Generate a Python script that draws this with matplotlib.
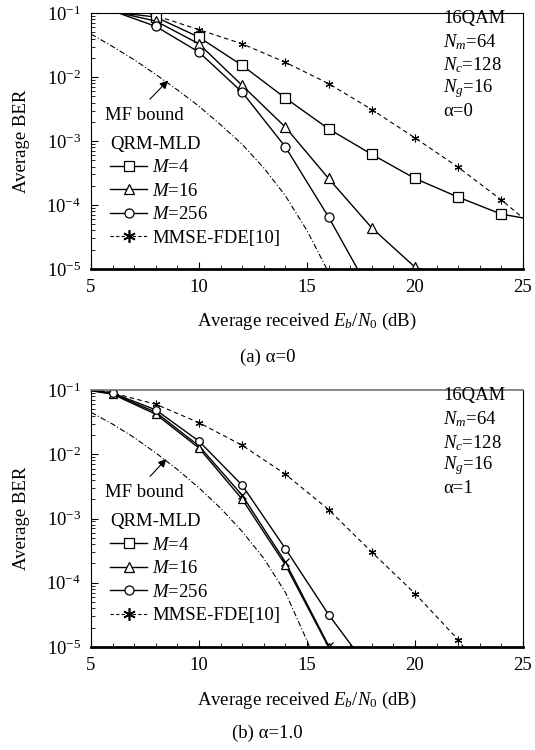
import numpy as np
import matplotlib
matplotlib.use("Agg")
import matplotlib.pyplot as plt
from matplotlib.lines import Line2D

plt.rcParams['font.family'] = ['Liberation Serif', 'DejaVu Serif']
plt.rcParams['mathtext.fontset'] = 'custom'
plt.rcParams['mathtext.rm'] = 'Liberation Serif'
plt.rcParams['mathtext.it'] = 'Liberation Serif:italic'
plt.rcParams['mathtext.bf'] = 'Liberation Serif:bold'

# ---------------- data, (a) alpha = 0 ----------------
snr_m4_a = [6, 8, 10, 12, 14, 16, 18, 20, 22, 24, 26]
ber_m4_a = [0.104, 0.0866, 0.042, 0.0152, 0.0047, 0.00155, 6.2e-4, 2.6e-4, 1.33e-4, 7.2e-5, 5.5e-5]
snr_m16_a = [6, 8, 10, 12, 14, 16, 18, 20, 22]
ber_m16_a = [0.106, 0.075, 0.033, 0.0074, 0.00165, 2.6e-4, 4.4e-5, 1.07e-5, 6e-6]
snr_m256_a = [6, 8, 10, 12, 14, 16, 18]
ber_m256_a = [0.108, 0.062, 0.0245, 0.0058, 8.1e-4, 6.5e-5, 4e-6]
snr_mmse_a = [6, 8, 10, 12, 14, 16, 18, 20, 22, 24, 26]
ber_mmse_a = [0.14, 0.091, 0.055, 0.033, 0.017, 0.0079, 0.0031, 0.00112, 3.9e-4, 1.2e-4, 3.3e-5]
snr_mf_a = [5, 6, 7, 8, 9, 10, 11, 12, 13, 14, 15, 16, 17]
ber_mf_a = [0.047, 0.030, 0.0186, 0.011, 0.0063, 0.0035, 0.0018, 8.9e-4, 3.8e-4, 1.4e-4, 4.0e-5, 8.9e-6, 2.0e-6]

# ---------------- data, (b) alpha = 1.0 ----------------
snr_m4_b = [4, 6, 8, 10, 12, 14, 16, 18]
ber_m4_b = [0.11, 0.088, 0.045, 0.0135, 0.0023, 2.1e-4, 1.05e-5, 2e-7]
snr_m16_b = [4, 6, 8, 10, 12, 14, 16, 18]
ber_m16_b = [0.11, 0.086, 0.042, 0.0125, 0.0020, 1.9e-4, 1.0e-5, 2e-7]
snr_m256_b = [4, 6, 8, 10, 12, 14, 16, 18]
ber_m256_b = [0.11, 0.09, 0.049, 0.016, 0.0033, 3.4e-4, 3.2e-5, 4e-6]
snr_mmse_b = [4, 6, 8, 10, 12, 14, 16, 18, 20, 22, 24]
ber_mmse_b = [0.13, 0.09, 0.06, 0.031, 0.0138, 0.0049, 0.00138, 3.0e-4, 6.8e-5, 1.3e-5, 1.5e-6]
snr_mf_b = [5, 6, 7, 8, 9, 10, 11, 12, 13, 14, 15, 16]
ber_mf_b = [0.045, 0.0295, 0.0182, 0.0105, 0.0058, 0.0030, 0.00145, 6.3e-4, 2.4e-4, 7.1e-5, 1.26e-5, 2.0e-6]

params_a = ['16QAM', r'$N_m$=64', r'$N_c$=128', r'$N_g$=16', 'α=0']
params_b = ['16QAM', r'$N_m$=64', r'$N_c$=128', r'$N_g$=16', 'α=1']

FS = 13.5
star = (6, 2, 0)

fig = plt.figure(figsize=(5.35, 7.5), dpi=100)
ax1 = fig.add_axes([0.170, 0.6413, 0.8075, 0.3413])
ax2 = fig.add_axes([0.170, 0.1373, 0.8075, 0.3427])


def panel(ax, d, params, mk4, mk16, mk256, ms, first):
    (s4, b4), (s16, b16), (s256, b256), (sm, bm), (sf, bf) = d
    me = slice(first, None)
    ax.plot(sf, bf, color='k', lw=0.8, ls=(0, (5, 2, 1, 2)))
    ax.plot(sm, bm, color='k', lw=0.8, ls=(0, (4, 3)), marker=star, ms=5.5, mew=0.8,
            markevery=me)
    ax.plot(s4, b4, color='k', lw=1.0, marker=mk4, ms=ms, mfc='white', mec='k', mew=0.9,
            markevery=me)
    ax.plot(s16, b16, color='k', lw=1.0, marker=mk16, ms=ms, mfc='white', mec='k', mew=0.9,
            markevery=me)
    ax.plot(s256, b256, color='k', lw=1.0, marker=mk256, ms=ms, mfc='white', mec='k', mew=0.9,
            markevery=me)

    ax.set_yscale('log')
    ax.set_xlim(5, 25)
    ax.set_ylim(1e-5, 1e-1)
    ax.set_xticks([5, 10, 15, 20, 25])
    ax.set_xticks(np.arange(5, 26, 1), minor=True)
    ax.tick_params(which='both', direction='in', top=False, right=False,
                   labelsize=FS, pad=7)
    ax.tick_params(which='major', length=5, width=0.8)
    ax.tick_params(which='minor', length=3, width=0.6)
    for sp in ['top', 'right', 'left']:
        ax.spines[sp].set_linewidth(0.8)
    ax.spines['bottom'].set_linewidth(2.0)

    ax.set_xlabel(r'Average received $E_b/N_0$ (dB)', fontsize=FS)
    ax.xaxis.set_label_coords(0.5, -0.165)
    ax.set_ylabel('Average BER', fontsize=FS)
    ax.yaxis.set_label_coords(-0.142, 0.5)

    ys = [0.977, 0.887, 0.795, 0.705, 0.615]
    for t, y in zip(params, ys):
        ax.text(0.815, y, t, transform=ax.transAxes, fontsize=FS, va='center', ha='left')

    ax.text(5.65, 0.0025, 'MF bound', fontsize=FS, va='center', ha='left')

    handles = [
        Line2D([], [], color='k', lw=1.0, marker='s', ms=6.5, mfc='white', mew=0.9),
        Line2D([], [], color='k', lw=1.0, marker='^', ms=6.5, mfc='white', mew=0.9),
        Line2D([], [], color='k', lw=1.0, marker='o', ms=6.5, mfc='white', mew=0.9),
        Line2D([], [], color='k', lw=0.8, ls=(0, (3, 2)), marker=star, ms=9, mew=1.2),
    ]
    labels = [r'$M$=4', r'$M$=16', r'$M$=256', 'MMSE-FDE[10]']
    ax.legend(handles, labels, title='QRM-MLD', loc='upper left',
              bbox_to_anchor=(0.044, 0.52), frameon=False, fontsize=FS,
              title_fontsize=FS, borderpad=0, handlelength=2.0,
              handletextpad=0.25, labelspacing=0.34, alignment='left',
              borderaxespad=0)


panel(ax1, [(snr_m4_a, ber_m4_a), (snr_m16_a, ber_m16_a), (snr_m256_a, ber_m256_a),
            (snr_mmse_a, ber_mmse_a), (snr_mf_a, ber_mf_a)], params_a, 's', '^', 'o', 6.5, 1)
ax1.annotate('', xy=(8.66, 0.0095), xytext=(7.64, 0.0042),
             arrowprops=dict(arrowstyle='-|>', color='k', lw=0.8, mutation_scale=12))

panel(ax2, [(snr_m4_b, ber_m4_b), (snr_m16_b, ber_m16_b), (snr_m256_b, ber_m256_b),
            (snr_mmse_b, ber_mmse_b), (snr_mf_b, ber_mf_b)], params_b, 'x', '^', 'o', 5.5, 1)
ax2.annotate('', xy=(8.58, 0.0091), xytext=(7.65, 0.0042),
             arrowprops=dict(arrowstyle='-|>', color='k', lw=0.8, mutation_scale=12))
ax2.spines['top'].set_color('0.45')
ax2.spines['top'].set_linewidth(1.2)

fig.text(0.5, 1 - 357 / 750, '(a) α=0', fontsize=FS, ha='center', va='center')
fig.text(0.5, 1 - 733 / 750, '(b) α=1.0', fontsize=FS, ha='center', va='center')

fig.savefig('out.png', dpi=100)
